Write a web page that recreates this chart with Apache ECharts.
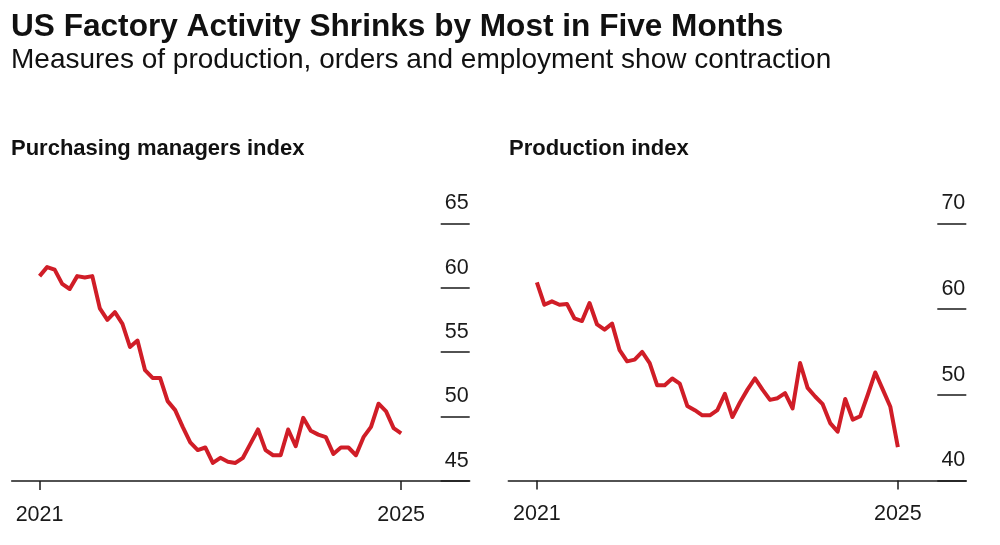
<!DOCTYPE html>
<html>
<head>
<meta charset="utf-8">
<script src="https://cdn.jsdelivr.net/npm/echarts@6/dist/echarts.min.js"></script>
<style>
  html, body { margin: 0; padding: 0; background: #fff; }
  #main { width: 1000px; height: 545px; }
</style>
</head>
<body>
<div id="main"></div>
<script>
// months, Apr 2021 .. Apr 2025
const months = [];
for (let y = 2021, m = 4; y < 2025 || (y === 2025 && m <= 4); m++) {
  if (m > 12) { m = 1; y++; }
  months.push(y + '-' + String(m).padStart(2, '0'));
}

// ISM purchasing managers index
const pmi = [
  60.9, 61.6, 61.4, 60.3, 59.9, 60.9, 60.8, 60.9, 58.4, 57.5,
  58.1, 57.2, 55.4, 55.9, 53.6, 53.0, 53.0, 51.2, 50.5, 49.2,
  48.0, 47.4, 47.6, 46.4, 46.8, 46.5, 46.4, 46.8, 47.9, 49.0,
  47.4, 47.0, 47.0, 49.0, 47.7, 49.9, 48.9, 48.6, 48.4, 47.1,
  47.6, 47.6, 47.0, 48.4, 49.2, 51.0, 50.4, 49.1, 48.7
];

// ISM production index
const production = [
  63.1, 60.5, 60.9, 60.5, 60.6, 58.9, 58.6, 60.7, 58.2, 57.6,
  58.3, 55.2, 53.9, 54.1, 55.0, 53.7, 51.1, 51.1, 51.9, 51.3,
  48.7, 48.2, 47.6, 47.6, 48.2, 50.1, 47.4, 49.1, 50.6, 51.9,
  50.6, 49.4, 49.6, 50.2, 48.4, 53.7, 50.8, 49.8, 48.9, 46.7,
  45.7, 49.5, 47.1, 47.5, 50.0, 52.6, 50.6, 48.6, 43.9
];

const pmiTicks = [45, 50, 55, 60, 65];
const prodTicks = [40, 50, 60, 70];
const yearTicks = [0, months.length - 1];

const FONT = '"Liberation Sans", Arial, sans-serif';
const RED = '#d01d27';
const INK = '#1a1a1a';

const chart = echarts.init(document.getElementById('main'));

function xAxisFor(gridIndex, min, max) {
  return {
    type: 'value',
    gridIndex: gridIndex,
    min: min,
    max: max,
    axisLine: { show: true, onZero: false, lineStyle: { color: INK, width: 1.5 } },
    axisTick: { show: true, customValues: yearTicks, length: 9, lineStyle: { color: INK, width: 1.5 } },
    axisLabel: {
      customValues: yearTicks,
      formatter: v => months[Math.round(v)].slice(0, 4),
      fontSize: 21.5, color: INK, fontFamily: FONT, margin: 23
    },
    splitLine: { show: false }
  };
}

// y axis sits 29px inside the grid's right edge, ticks run out to the edge
function yAxisFor(gridIndex, ticks) {
  return {
    type: 'value',
    gridIndex: gridIndex,
    position: 'right',
    offset: -29,
    min: ticks[0],
    max: ticks[ticks.length - 1],
    interval: ticks[1] - ticks[0],
    axisLine: { show: false, onZero: false },
    axisTick: { show: true, inside: false, length: 29, lineStyle: { color: INK, width: 1.5 } },
    axisLabel: {
      margin: 28, align: 'right', verticalAlign: 'bottom',
      padding: [0, 0, 9, 0], fontSize: 21.5, color: INK, fontFamily: FONT
    },
    splitLine: { show: false }
  };
}

chart.setOption({
  animation: false,
  backgroundColor: '#fff',
  textStyle: { fontFamily: FONT },
  title: [
    { text: 'US Factory Activity Shrinks by Most in Five Months', left: 11, top: 11, padding: 0,
      textStyle: { fontSize: 31.6, fontWeight: 'bold', color: '#111', fontFamily: FONT } },
    { text: 'Measures of production, orders and employment show contraction', left: 11, top: 46, padding: 0,
      textStyle: { fontSize: 28, fontWeight: 'normal', color: '#111', fontFamily: FONT } },
    { text: 'Purchasing managers index', left: 11, top: 138, padding: 0,
      textStyle: { fontSize: 22, fontWeight: 'bold', color: '#111', fontFamily: FONT } },
    { text: 'Production index', left: 509, top: 138, padding: 0,
      textStyle: { fontSize: 22, fontWeight: 'bold', color: '#111', fontFamily: FONT } }
  ],
  grid: [
    { left: 11.7, width: 458, top: 223.3, height: 257.7 },
    { left: 508.3, width: 458, top: 223.3, height: 257.2 }
  ],
  xAxis: [xAxisFor(0, -3.7, 57.1), xAxisFor(1, -3.8, 57.1)],
  yAxis: [yAxisFor(0, pmiTicks), yAxisFor(1, prodTicks)],
  series: [
    { type: 'line', xAxisIndex: 0, yAxisIndex: 0, showSymbol: false,
      lineStyle: { color: RED, width: 4, join: 'round' },
      data: pmi.map((v, i) => [i, v]) },
    { type: 'line', xAxisIndex: 1, yAxisIndex: 1, showSymbol: false,
      lineStyle: { color: RED, width: 4, join: 'round' },
      data: production.map((v, i) => [i, v]) }
  ]
});
</script>
</body>
</html>
